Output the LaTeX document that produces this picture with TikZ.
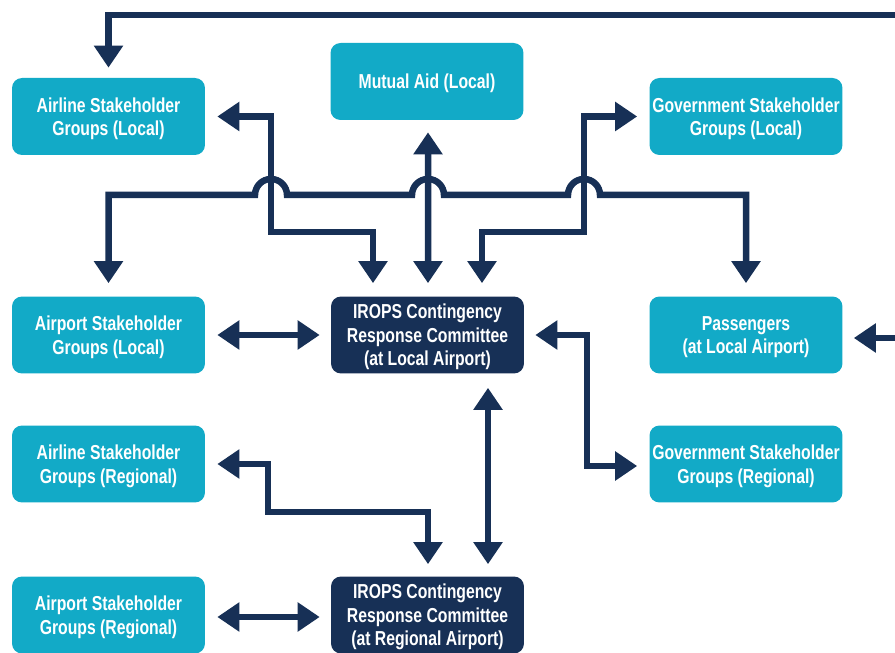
\documentclass[tikz,border=0pt]{standalone}
\usepackage{fontspec}
\newfontfamily\boxfont{Liberation Sans}[FakeStretch=0.78]
\usetikzlibrary{arrows.meta,calc}
\definecolor{boxteal}{RGB}{18,170,199}
\definecolor{boxnavy}{RGB}{23,48,86}
\begin{document}
\begin{tikzpicture}[x=0.02cm,y=0.02cm,
  box/.style={rounded corners=0.2cm, minimum width=3.86cm, minimum height=1.54cm, inner sep=0pt, align=center, text=white, text depth=0pt, font=\boxfont\bfseries\fontsize{11.5}{13.3}\selectfont},
  lbox/.style={box, fill=boxteal},
  dbox/.style={box, fill=boxnavy},
  conn/.style={draw=boxnavy, line width=0.13cm},
  arr/.style={conn, -{Triangle[width=0.56cm,length=0.44cm]}},
  dbl/.style={conn, {Triangle[width=0.56cm,length=0.44cm]}-{Triangle[width=0.56cm,length=0.44cm]}}]
\useasboundingbox (0,0) rectangle (895,652);
\fill[white] (0,0) rectangle (895,652);
% nodes
\node[lbox] (airlineL) at (108.5,535.5) {Airline Stakeholder\\Groups (Local)};
\node[lbox] (mutual) at (427,570.5) {Mutual Aid (Local)};
\node[lbox] (govL) at (746,535.5) {Government Stakeholder\\Groups (Local)};
\node[lbox] (airportL) at (108.5,317) {Airport Stakeholder\\Groups (Local)};
\node[dbox] (iropsL) at (427.5,317) {IROPS Contingency\\Response Committee\\(at Local Airport)};
\node[lbox] (pass) at (746,317) {Passengers\\(at Local Airport)};
\node[lbox] (airlineR) at (108.5,188) {Airline Stakeholder\\Groups (Regional)};
\node[lbox] (govR) at (746,188) {Government Stakeholder\\Groups (Regional)};
\node[lbox] (airportR) at (108.5,37) {Airport Stakeholder\\Groups (Regional)};
\node[dbox] (iropsR) at (427.5,37) {IROPS Contingency\\Response Committee\\(at Regional Airport)};
\coordinate (topR) at (900,637);
\coordinate (passR) at (900,314);
% connectors
\draw[arr] (topR) -| ($(airlineL.north)+(0,10)$);
\draw[arr] (passR) -- ($(pass.east)+(11,-3)$);
% distribution line with humps
\draw[dbl] ($(airportL.north)+(0,13)$) -- (108.5,457) -- (255,457)
  arc[start angle=180,end angle=0,radius=0.32cm] -- (412,457)
  arc[start angle=180,end angle=0,radius=0.32cm] -- (568,457)
  arc[start angle=180,end angle=0,radius=0.32cm] -- (746,457)
  -- ($(pass.north)+(0,13)$);
\draw[dbl] ($(iropsL.north)+(-54.5,13)$) |- (271,420) |- ($(airlineL.east)+(12,0)$);
\draw[dbl] ($(iropsL.north)+(0.5,13)$) -- ($(mutual.south)+(1,-12)$);
\draw[dbl] ($(iropsL.north)+(54.5,13)$) |- (584,420) |- ($(govL.west)+(-12,0)$);
\draw[dbl] ($(airportL.east)+(12,0)$) -- ($(iropsL.west)+(-11,0)$);
\draw[dbl] ($(iropsL.east)+(11,0)$) -| (587,186) -- ($(govR.west)+(-12,-2)$);
\draw[dbl] ($(iropsL.south)+(60.5,-14)$) -- ($(iropsR.north)+(60.5,12)$);
\draw[dbl] ($(airlineR.east)+(12,0)$) -| (268,140) -| ($(iropsR.north)+(0.5,12)$);
\draw[dbl] ($(airportR.east)+(12,-2)$) -- ($(iropsR.west)+(-11,-2)$);
\end{tikzpicture}
\end{document}
